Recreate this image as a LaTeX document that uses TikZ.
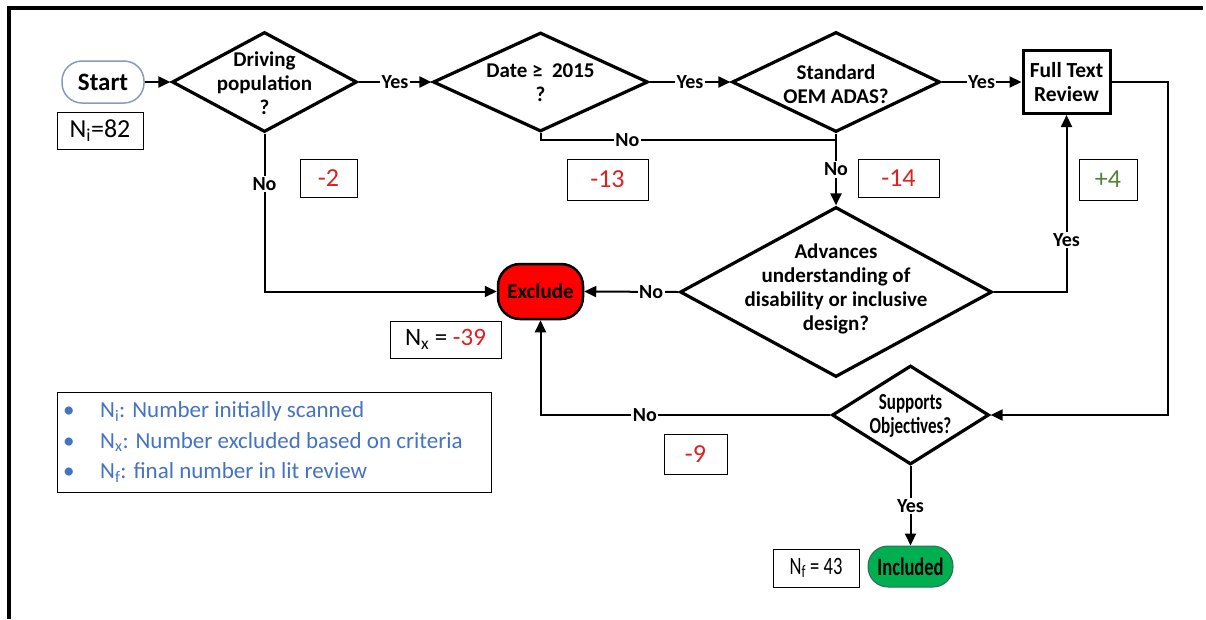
\documentclass[tikz,border=0pt]{standalone}
\usepackage{fontspec}
\setmainfont{Carlito}
\newfontfamily\condfont[FakeStretch=0.74]{Carlito}
\usetikzlibrary{shapes.geometric,arrows.meta}
\definecolor{numred}{HTML}{E02020}
\definecolor{numgreen}{HTML}{548235}
\definecolor{legblue}{HTML}{4472C4}
\definecolor{exred}{HTML}{FF0000}
\definecolor{ingreen}{HTML}{00B050}
\definecolor{inline}{HTML}{2E6B5A}
\definecolor{startline}{HTML}{8A9BB5}
\begin{document}
\begin{tikzpicture}[x=1pt,y=-1pt,
  dia/.style={diamond, draw, line width=3.2pt, inner sep=0pt, aspect=1},
  dtext/.style={font=\fontsize{21}{24}\selectfont\bfseries, align=center, inner sep=0pt},
  cbox/.style={draw, line width=1pt, inner sep=0pt, font=\fontsize{26}{28}\selectfont},
  conn/.style={line width=2pt, -{Triangle[length=12pt,width=11pt]}},
  plainline/.style={line width=2pt},
  lbl/.style={fill=white, inner sep=1.5pt, font=\fontsize{20}{22}\selectfont\bfseries},
  term/.style={draw, rounded corners=20pt, inner sep=0pt}
]
\useasboundingbox (0,0) rectangle (1206,619);
\fill[white] (0,0) rectangle (1206,619);
% frame
\draw[line width=4pt] (9,619) -- (9,8) -- (1203,8);

% nodes
\node[term, draw=startline, line width=1.5pt, minimum width=82pt, minimum height=42pt,
      font=\fontsize{25}{28}\selectfont\bfseries] (start) at (103,82) {Start};
\node[cbox, minimum width=86pt, minimum height=37pt] (ni) at (100,130.5) {N\textsubscript{i}=82};

\node[dia, minimum width=185pt, minimum height=100pt] (d1) at (264.5,82) {};
\node[dtext] (t1) at (264.5,83) {Driving\\population\\?};

\node[dia, minimum width=215pt, minimum height=99pt] (d2) at (540.5,82) {};
\node[dtext] (t2) at (540.5,83) {Date ≥\ \ 2015\\?};

\node[dia, minimum width=208pt, minimum height=100pt] (d3) at (836,82) {};
\node[dtext] (t3) at (836,84) {Standard\\OEM ADAS?};

\node[draw, line width=3pt, minimum width=87pt, minimum height=63pt, inner sep=0pt,
      align=center, font=\fontsize{21.5}{24}\selectfont\bfseries] (full) at (1066.5,82) {Full Text\\Review};

\node[dia, minimum width=312pt, minimum height=170pt] (d4) at (836,292) {};
\node[dtext] (t4) at (836,289) {Advances\\understanding of\\disability or inclusive\\design?};

\node[term, fill=exred, line width=2.5pt, rounded corners=22pt, minimum width=85pt, minimum height=55pt,
      font=\fontsize{21}{24}\selectfont\bfseries] (exc) at (540.5,291.5) {Exclude};

\node[dia, minimum width=157pt, minimum height=99pt] (d5) at (910.5,415) {};
\node[dtext, font=\fontsize{23}{24.5}\condfont\bfseries] (t5) at (910.5,416) {Supports\\Objectives?};

\node[term, fill=ingreen, draw=inline, line width=1pt, minimum width=85pt, minimum height=41pt,
      font=\fontsize{25}{28}\condfont\bfseries] (inc) at (910.5,566.5) {Included};

% count boxes
\node[cbox, minimum width=57pt, minimum height=38pt, text=numred] (m2) at (328.5,178) {-2};
\node[cbox, minimum width=81pt, minimum height=41pt, text=numred] (m13) at (607.5,179.5) {-13};
\node[cbox, minimum width=81pt, minimum height=38pt, text=numred] (m14) at (898.5,178) {-14};
\node[cbox, minimum width=58pt, minimum height=41pt, text=numgreen] (p4) at (1108,179.5) {+4};
\node[cbox, minimum width=111pt, minimum height=37pt, font=\fontsize{25}{28}\selectfont] (nx) at (445.5,339.5) {N\textsubscript{x} = \textcolor{numred}{-39}};
\node[cbox, minimum width=63pt, minimum height=40pt, text=numred] (m9) at (695.5,454) {-9};
\node[cbox, minimum width=86pt, minimum height=38pt, font=\fontsize{25}{28}\condfont] (nf) at (816,568) {N\textsubscript{f} = 43};

% legend
\node[draw, line width=1pt, minimum width=434pt, minimum height=100pt, inner sep=0pt] (leg) at (274,442) {};
\node[anchor=west, align=left, text=legblue, font=\fontsize{23}{30.5}\selectfont, inner sep=0pt] (legt) at (63,442)
  {\makebox[37pt][l]{\textbullet}N\textsubscript{i}: Number initially scanned\\
   \makebox[37pt][l]{\textbullet}N\textsubscript{x}: Number excluded based on criteria\\
   \makebox[37pt][l]{\textbullet}N\textsubscript{f}: final number in lit review};

% connectors
\coordinate (j) at (836,140);
\draw[conn] (start.east) -- (d1.west);
\draw[conn] (d1.east) -- node[lbl]{Yes} (d2.west);
\draw[conn] (d2.east) -- node[lbl]{Yes} (d3.west);
\draw[conn] (d3.east) -- node[lbl]{Yes} (full.west);
\draw[plainline] (d2.south) |- node[lbl, pos=0.647]{No} (j);
\draw[conn] (d3.south) -- node[lbl]{No} (d4.north);
\draw[conn] (d1.south) |- node[lbl, pos=0.16]{No} (exc.west);
\draw[conn] (d4.west) -- node[lbl, pos=0.29]{No} (exc.east);
\draw[conn] (d4.east) -| node[lbl, pos=0.646]{Yes} (full.south);
\draw[conn] (full.east) -- ++(56,0) |- (d5.east);
\draw[conn] (d5.west) -| node[lbl, pos=0.32]{No} (exc.south);
\draw[conn] (d5.south) -- node[lbl]{Yes} (inc.north);
\end{tikzpicture}
\end{document}
